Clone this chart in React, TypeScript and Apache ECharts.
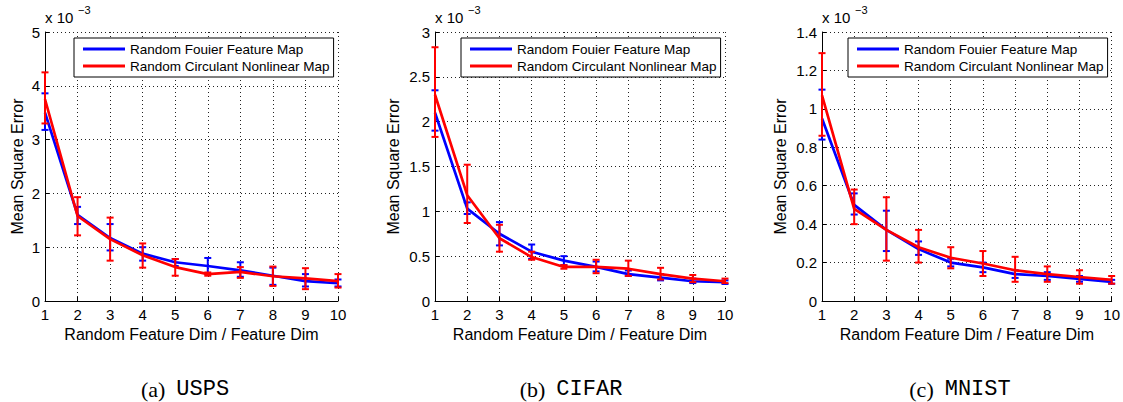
import React, { useEffect, useRef } from "react";
import * as echarts from "echarts";

const featureRatio = [1, 2, 3, 4, 5, 6, 7, 8, 9, 10];
const seriesNames = ["Random Fouier Feature Map", "Random Circulant Nonlinear Map"];
const yAxisTitle = "Mean Square Error";
const xAxisTitle = "Random Feature Dim / Feature Dim";
const captionTags = ["(a)", "(b)", "(c)"];
const datasetNames = ["USPS", "CIFAR", "MNIST"];
const yMaxes = [5, 3, 1.4];
const yIntervals = [1, 0.5, 0.2];

// values in units of 1e-3
const uspsRffMean = [3.5, 1.6, 1.17, 0.88, 0.72, 0.65, 0.57, 0.47, 0.37, 0.33];
const uspsRffLow = [3.18, 1.43, 0.94, 0.75, 0.65, 0.5, 0.45, 0.3, 0.27, 0.27];
const uspsRffHigh = [3.86, 1.75, 1.43, 1.0, 0.78, 0.8, 0.72, 0.62, 0.5, 0.4];
const uspsRcnmMean = [3.75, 1.58, 1.15, 0.85, 0.63, 0.5, 0.54, 0.46, 0.42, 0.37];
const uspsRcnmLow = [3.3, 1.22, 0.75, 0.62, 0.47, 0.47, 0.43, 0.28, 0.22, 0.25];
const uspsRcnmHigh = [4.25, 1.93, 1.55, 1.07, 0.78, 0.53, 0.63, 0.64, 0.61, 0.5];

const cifarRffMean = [2.1, 1.03, 0.75, 0.55, 0.45, 0.38, 0.3, 0.26, 0.22, 0.21];
const cifarRffLow = [1.9, 0.97, 0.62, 0.47, 0.4, 0.33, 0.28, 0.23, 0.2, 0.19];
const cifarRffHigh = [2.35, 1.1, 0.88, 0.63, 0.5, 0.44, 0.34, 0.3, 0.25, 0.23];
const cifarRcnmMean = [2.3, 1.18, 0.7, 0.49, 0.38, 0.38, 0.36, 0.3, 0.25, 0.22];
const cifarRcnmLow = [1.83, 0.87, 0.55, 0.46, 0.36, 0.31, 0.28, 0.24, 0.21, 0.2];
const cifarRcnmHigh = [2.83, 1.52, 0.85, 0.55, 0.4, 0.46, 0.45, 0.37, 0.29, 0.25];

const mnistRffMean = [0.95, 0.5, 0.37, 0.27, 0.2, 0.175, 0.14, 0.13, 0.115, 0.1];
const mnistRffLow = [0.84, 0.45, 0.26, 0.24, 0.18, 0.15, 0.12, 0.11, 0.1, 0.09];
const mnistRffHigh = [1.1, 0.56, 0.47, 0.31, 0.22, 0.2, 0.16, 0.15, 0.13, 0.11];
const mnistRcnmMean = [1.07, 0.48, 0.37, 0.28, 0.225, 0.195, 0.16, 0.14, 0.125, 0.11];
const mnistRcnmLow = [0.86, 0.4, 0.21, 0.2, 0.17, 0.13, 0.1, 0.1, 0.09, 0.09];
const mnistRcnmHigh = [1.29, 0.58, 0.54, 0.37, 0.28, 0.26, 0.23, 0.18, 0.16, 0.13];

const panels = [
  { rff: [uspsRffMean, uspsRffLow, uspsRffHigh], rcnm: [uspsRcnmMean, uspsRcnmLow, uspsRcnmHigh] },
  { rff: [cifarRffMean, cifarRffLow, cifarRffHigh], rcnm: [cifarRcnmMean, cifarRcnmLow, cifarRcnmHigh] },
  { rff: [mnistRffMean, mnistRffLow, mnistRffHigh], rcnm: [mnistRcnmMean, mnistRcnmLow, mnistRcnmHigh] },
];

const BLUE = "#0000ff";
const RED = "#ff0000";
const FONT = "'Liberation Sans', Arial, Helvetica, sans-serif";

// layout
const gridLefts = [45, 435, 822];
const gridWidths = [293, 290, 290];
const gridTop = 32;
const gridHeight = 269;
const yNameGaps = [20, 34, 34];
const legendLefts = [74, 461, 848];
const captionCenters = [185, 571, 960];

function errorBarRenderer(color: string) {
  return (params: any, api: any) => {
    const x = api.value(0);
    const lo = api.value(1);
    const hi = api.value(2);
    const pLo = api.coord([x, lo]);
    const pHi = api.coord([x, hi]);
    const hw = 3.5;
    const style = { stroke: color, lineWidth: 2 };
    return {
      type: "group",
      children: [
        { type: "line", shape: { x1: pLo[0], y1: pLo[1], x2: pHi[0], y2: pHi[1] }, style },
        { type: "line", shape: { x1: pLo[0] - hw, y1: pLo[1], x2: pLo[0] + hw, y2: pLo[1] }, style },
        { type: "line", shape: { x1: pHi[0] - hw, y1: pHi[1], x2: pHi[0] + hw, y2: pHi[1] }, style },
      ],
    };
  };
}

export default function App() {
  const ref = useRef<HTMLDivElement>(null);
  useEffect(() => {
    if (!ref.current) return;
    const chart = echarts.init(ref.current, undefined, { renderer: "svg" });

    const grid: any[] = [];
    const xAxis: any[] = [];
    const yAxis: any[] = [];
    const series: any[] = [];
    const legend: any[] = [];
    const graphic: any[] = [];

    const splitLine = { show: true, lineStyle: { color: "#222", width: 1, type: [1, 3] } };

    panels.forEach((p, i) => {
      grid.push({ left: gridLefts[i], top: gridTop, width: gridWidths[i], height: gridHeight });
      xAxis.push({
        type: "value",
        gridIndex: i,
        min: 1,
        max: 10,
        interval: 1,
        name: xAxisTitle,
        nameLocation: "middle",
        nameGap: 23,
        nameTextStyle: { fontFamily: FONT, fontSize: 16, color: "#000" },
        axisLine: { show: true, onZero: false, lineStyle: { color: "#000", width: 1 } },
        axisTick: { show: true, inside: true, length: 4, lineStyle: { color: "#000" } },
        axisLabel: { fontFamily: FONT, fontSize: 15, color: "#000", margin: 6 },
        splitLine,
      });
      yAxis.push({
        type: "value",
        gridIndex: i,
        min: 0,
        max: yMaxes[i],
        interval: yIntervals[i],
        name: yAxisTitle,
        nameLocation: "middle",
        nameGap: yNameGaps[i],
        nameTextStyle: { fontFamily: FONT, fontSize: 16, color: "#000" },
        axisLine: { show: true, lineStyle: { color: "#000", width: 1 } },
        axisTick: { show: true, inside: true, length: 4, lineStyle: { color: "#000" } },
        axisLabel: { fontFamily: FONT, fontSize: 15, color: "#000", margin: 5 },
        splitLine,
      });

      const groups = [
        { vals: p.rff, color: BLUE, name: seriesNames[0] },
        { vals: p.rcnm, color: RED, name: seriesNames[1] },
      ];
      groups.forEach((g, k) => {
        const [mean, low, high] = g.vals;
        series.push({
          type: "custom",
          name: `err-${i}-${k}`,
          xAxisIndex: i,
          yAxisIndex: i,
          renderItem: errorBarRenderer(g.color),
          encode: { x: 0, y: [1, 2] },
          data: featureRatio.map((x, j) => [x, low[j], high[j]]),
          z: 2 + k * 2,
          silent: true,
        });
        series.push({
          type: "line",
          name: g.name,
          xAxisIndex: i,
          yAxisIndex: i,
          data: featureRatio.map((x, j) => [x, mean[j]]),
          showSymbol: false,
          symbol: "none",
          lineStyle: { color: g.color, width: 2.7 },
          itemStyle: { color: g.color },
          z: 3 + k * 2,
          silent: true,
        });
      });

      legend.push({
        data: seriesNames,
        orient: "vertical",
        left: legendLefts[i],
        top: 38,
        padding: [4, 4, 4, 9],
        itemGap: 3,
        itemWidth: 42,
        itemHeight: 3,
        icon: "rect",
        borderColor: "#000",
        borderWidth: 1,
        backgroundColor: "#fff",
        textStyle: { fontFamily: FONT, fontSize: 13.5, color: "#000" },
        selectedMode: false,
      });

      graphic.push({
        type: "text",
        left: gridLefts[i],
        top: 10,
        style: { text: "x 10", fontFamily: FONT, fontSize: 15, fill: "#000" },
      });
      graphic.push({
        type: "text",
        left: gridLefts[i] + 33,
        top: 4,
        style: { text: "\u22123", fontFamily: FONT, fontSize: 11, fill: "#000" },
      });
      graphic.push({
        type: "text",
        x: captionCenters[i],
        y: 389,
        style: {
          text: `{s|${captionTags[i]}  }{m|${datasetNames[i]}}`,
          align: "center",
          verticalAlign: "middle",
          rich: {
            s: { fontFamily: "'Liberation Serif', 'DejaVu Serif', serif", fontSize: 22, fill: "#000" },
            m: { fontFamily: "'Liberation Mono', 'DejaVu Sans Mono', monospace", fontSize: 22, fill: "#000" },
          },
        },
      });
    });

    chart.setOption({
      animation: false,
      backgroundColor: "#fff",
      grid,
      xAxis,
      yAxis,
      series,
      legend,
      graphic,
    });
    return () => chart.dispose();
  }, []);

  return (
    <div
      ref={ref}
      style={{ position: "absolute", left: 0, top: 0, width: 1123, height: 402 }}
    />
  );
}
